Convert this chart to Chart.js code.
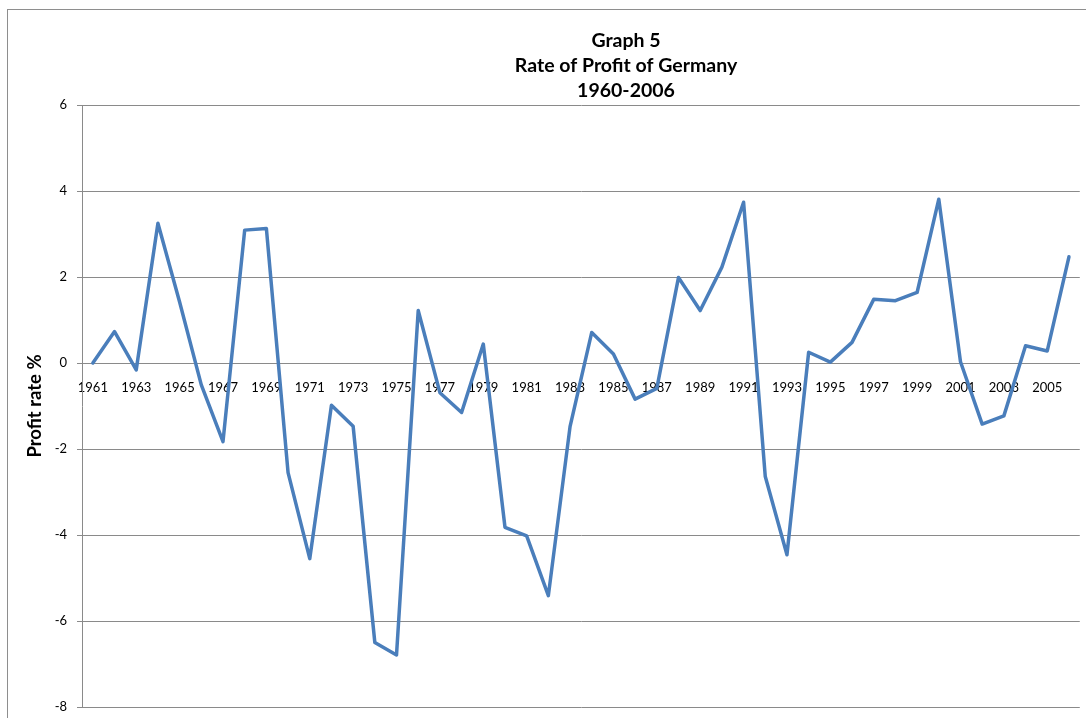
<!DOCTYPE html>
<html>
<head>
<meta charset="utf-8">
<script src="https://cdn.jsdelivr.net/npm/chart.js@4/dist/chart.umd.min.js"></script>
<style>
  html, body { margin: 0; padding: 0; background: #fff; overflow: hidden; }
  #frame { position: absolute; left: 7px; top: 9px; width: 2000px; height: 2000px; border: 1px solid #8e8e8e; box-sizing: border-box; }
  #wrap { position: absolute; left: 0; top: 0; width: 1086px; height: 718px; }
</style>
</head>
<body>
<div id="frame"></div>
<div id="wrap"><canvas id="c" width="1086" height="718"></canvas></div>
<script>
const titleLines = ['Graph 5', 'Rate of Profit of Germany', '1960-2006'];
const yAxisTitle = 'Profit rate %';
const years = ['1961','1962','1963','1964','1965','1966','1967','1968','1969','1970',
  '1971','1972','1973','1974','1975','1976','1977','1978','1979','1980',
  '1981','1982','1983','1984','1985','1986','1987','1988','1989','1990',
  '1991','1992','1993','1994','1995','1996','1997','1998','1999','2000',
  '2001','2002','2003','2004','2005','2006'];
const profitRate = [0.00, 0.73, -0.16, 3.25, 1.42, -0.51, -1.83, 3.09, 3.13, -2.55,
  -4.55, -0.98, -1.47, -6.50, -6.79, 1.22, -0.69, -1.15, 0.44, -3.82,
  -4.02, -5.41, -1.48, 0.71, 0.21, -0.84, -0.59, 1.99, 1.22, 2.23,
  3.74, -2.64, -4.46, 0.25, 0.02, 0.48, 1.48, 1.45, 1.64, 3.81,
  0.03, -1.42, -1.23, 0.40, 0.28, 2.47];
const xTickLabels = ['1961','1963','1965','1967','1969','1971','1973','1975','1977','1979',
  '1981','1983','1985','1987','1989','1991','1993','1995','1997','1999',
  '2001','2003','2005'];
const yTicks = [6, 4, 2, 0, -2, -4, -6, -8];

const FONT = 'Lato, "Open Sans", sans-serif';
const GRID = '#8a8a8a';

const titlePlugin = {
  id: 'excelTitle',
  afterDraw(chart) {
    const ctx = chart.ctx;
    ctx.save();
    ctx.fillStyle = '#000';
    ctx.font = 'bold 19.5px ' + FONT;
    ctx.textAlign = 'center';
    ctx.textBaseline = 'middle';
    const ys = [41, 66, 91];
    titleLines.forEach((t, i) => ctx.fillText(t, 626, ys[i]));
    ctx.restore();
  }
};

new Chart(document.getElementById('c'), {
  type: 'line',
  data: {
    labels: years,
    datasets: [{
      label: 'Profit rate',
      data: profitRate,
      borderColor: '#4a7ebb',
      backgroundColor: '#4a7ebb',
      borderWidth: 3.5,
      borderJoinStyle: 'round',
      borderCapStyle: 'round',
      pointRadius: 0,
      pointHoverRadius: 0,
      tension: 0,
      fill: false
    }]
  },
  options: {
    responsive: false,
    animation: false,
    events: [],
    layout: { padding: { top: 105, right: 5, bottom: 11, left: 0 } },
    plugins: {
      legend: { display: false },
      tooltip: { enabled: false },
      title: { display: false }
    },
    scales: {
      x: {
        type: 'category',
        position: { y: 0 },
        offset: true,
        grid: { display: false, drawTicks: false },
        border: { display: true, color: GRID, width: 1 },
        ticks: {
          autoSkip: false,
          maxRotation: 0,
          minRotation: 0,
          padding: 17,
          color: '#000',
          font: { family: FONT, size: 13 },
          callback: function(value) {
            const lab = this.getLabelForValue(value);
            return xTickLabels.includes(lab) ? lab : '';
          }
        }
      },
      y: {
        min: -8,
        max: 6,
        afterBuildTicks(scale) { scale.ticks = yTicks.map(v => ({ value: v })); },
        afterFit(scale) { scale.width = 82; scale.paddingTop = 0; scale.paddingBottom = 0; },
        grid: { color: GRID, tickColor: GRID, tickLength: 5, drawTicks: true, lineWidth: 1 },
        border: { display: true, color: GRID, width: 1 },
        ticks: {
          padding: 10,
          color: '#000',
          font: { family: FONT, size: 13 }
        },
        title: {
          display: true,
          text: yAxisTitle,
          color: '#000',
          font: { family: FONT, size: 18.5, weight: 'bold' },
          padding: { top: 24, bottom: 0 }
        }
      }
    }
  },
  plugins: [titlePlugin]
});
</script>
</body>
</html>
